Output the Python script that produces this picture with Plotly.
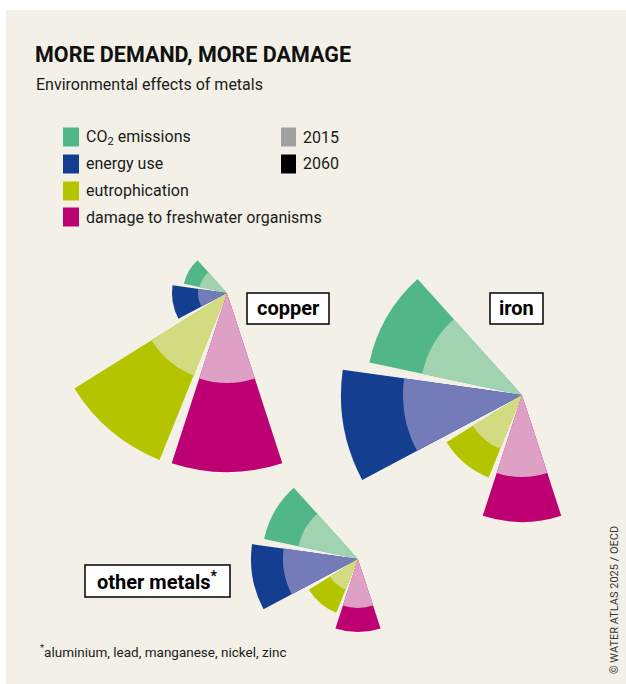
import plotly.graph_objects as go

W, H = 626, 684

# impact categories, drawn clockwise from upper left
categories = ["CO2 emissions", "energy use", "eutrophication", "damage to freshwater organisms"]
cat_angles = [150, 190, 230, 270]          # sector centres (deg, counter-clockwise from east)
colors_2060 = ["#52B788", "#143F91", "#B4C500", "#BD0072"]
colors_2015 = ["#A2D3B1", "#737CB8", "#D3DB80", "#DFA0C6"]

# sector radii (same scale for all three charts)
copper_2015 = [28, 29, 89, 90]
copper_2060 = [44, 55, 180, 179]
iron_2015 = [102, 119, 58, 82]
iron_2060 = [156, 181, 89, 127]
other_2015 = [61, 75, 33, 49]
other_2060 = [96, 107, 58, 73]

# chart centres in pixels
metals = [
    ("copper", copper_2015, copper_2060, (227, 293), 185),
    ("iron", iron_2015, iron_2060, (522, 395), 185),
    ("other", other_2015, other_2060, (358, 559), 112),
]

SECTOR = [130, 290]
BX0, BY0, BX1, BY1 = -1.0, -1.0, 0.342, 0.766   # bbox of that sector on unit circle

FONT = "Roboto, sans-serif"

fig = go.Figure()
layout_polars = {}
for i, (name, v15, v60, (cx, cy), R) in enumerate(metals):
    pid = "polar" if i == 0 else f"polar{i + 1}"
    fig.add_trace(go.Barpolar(r=v60, theta=cat_angles, width=36,
                              marker=dict(color=colors_2060, line=dict(width=0)),
                              subplot=pid, showlegend=False, hoverinfo="skip"))
    fig.add_trace(go.Barpolar(r=v15, theta=cat_angles, width=36,
                              marker=dict(color=colors_2015, line=dict(width=0)),
                              subplot=pid, showlegend=False, hoverinfo="skip"))
    x0 = cx + BX0 * R
    x1 = cx + BX1 * R
    ytop = cy - BY1 * R
    ybot = cy - BY0 * R
    layout_polars[pid] = dict(
        domain=dict(x=[x0 / W, x1 / W], y=[1 - ybot / H, 1 - ytop / H]),
        sector=SECTOR,
        bgcolor="rgba(0,0,0,0)",
        barmode="overlay",
        radialaxis=dict(range=[0, R], visible=False),
        angularaxis=dict(direction="counterclockwise", rotation=0, visible=False),
    )

shapes = [dict(type="rect", xref="paper", yref="paper", x0=6 / W, x1=1, y0=0, y1=1 - 10 / H,
               fillcolor="#F3F1E7", line=dict(width=0), layer="below")]
annotations = []


def px(x, y):
    return x / W, 1 - y / H


def text(x, y, s, size, bold=False, anchor="left", color="#1a1a1a", **kw):
    xx, yy = px(x, y)
    annotations.append(dict(x=xx, y=yy, xref="paper", yref="paper", text=f"<b>{s}</b>" if bold else s,
                            showarrow=False, xanchor=anchor, yanchor="middle",
                            font=dict(family=FONT, size=size, color=color), **kw))


text(33, 55, "MORE DEMAND, MORE DAMAGE", 21.5, bold=True, color="#111111")
text(34, 85, "Environmental effects of metals", 16)

legend_labels = ["CO<sub>2</sub> emissions", "energy use", "eutrophication", "damage to freshwater organisms"]
legend_y = [137, 164, 191, 217]
for lab, col, yc in zip(legend_labels, colors_2060, legend_y):
    shapes.append(dict(type="rect", xref="paper", yref="paper",
                       x0=63 / W, x1=79 / W, y0=1 - (yc + 9.5) / H, y1=1 - (yc - 9.5) / H,
                       fillcolor=col, line=dict(width=0)))
    text(84, yc, lab, 16)

years = ["2015", "2060"]
year_colors = ["#A0A0A0", "#000000"]
for yr, col, yc in zip(years, year_colors, legend_y[:2]):
    shapes.append(dict(type="rect", xref="paper", yref="paper",
                       x0=281 / W, x1=296 / W, y0=1 - (yc + 9.5) / H, y1=1 - (yc - 9.5) / H,
                       fillcolor=col, line=dict(width=0)))
    text(301, yc, yr, 16)

# metal name boxes
boxes = [("copper", 247, 293, 329, 324), ("iron", 490, 293, 543, 324),
         ("other metals*", 85, 565, 230, 597)]
for lab, bx0, by0, bx1, by1 in boxes:
    shapes.append(dict(type="rect", xref="paper", yref="paper",
                       x0=bx0 / W, x1=bx1 / W, y0=1 - by1 / H, y1=1 - by0 / H,
                       fillcolor="white", line=dict(color="black", width=1.5)))
    text((bx0 + bx1) / 2, (by0 + by1) / 2, lab.replace("*", "<sup>*</sup>"), 20, bold=True,
         anchor="center", color="#000000")

text(38, 651, "<sup>*</sup>aluminium, lead, manganese, nickel, zinc", 13.5)
text(614, 600, "© WATER ATLAS 2025 / OECD", 11, anchor="center", color="#333333", textangle=-90)

fig.update_layout(
    width=W, height=H,
    margin=dict(l=0, r=0, t=0, b=0),
    paper_bgcolor="white",
    plot_bgcolor="white",
    shapes=shapes,
    annotations=annotations,
    **layout_polars,
)

fig.write_html("out.html", config={"displayModeBar": False},
               post_script="document.body.style.margin='0';")
